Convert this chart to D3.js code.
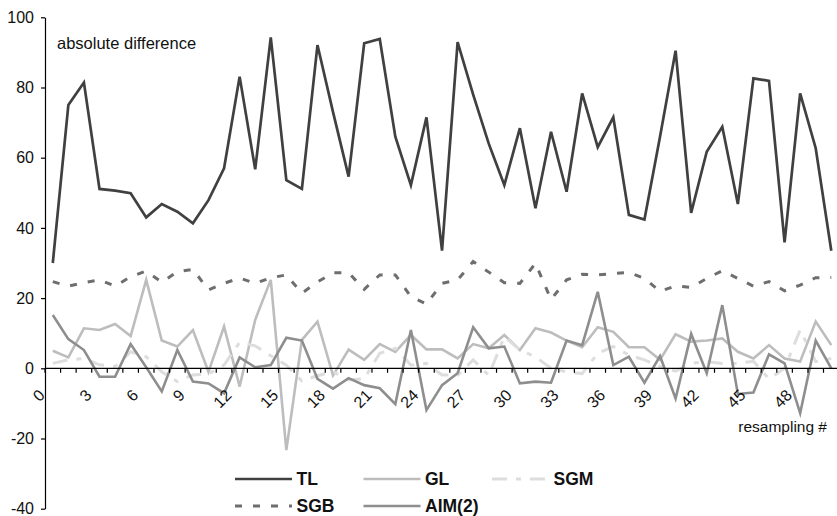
<!DOCTYPE html>
<html>
<head>
<meta charset="utf-8">
<script src="https://cdn.jsdelivr.net/npm/d3@7/dist/d3.min.js"></script>
<style>
  body { margin: 0; background: #fff; }
  svg { display: block; font-family: "Liberation Sans", Arial, sans-serif; }
</style>
</head>
<body>
<svg id="chart" width="837" height="516"></svg>
<script>
// resampling index 0..50
const resampling = d3.range(51)
const xTickLabels = [0, 3, 6, 9, 12, 15, 18, 21, 24, 27, 30, 33, 36, 39, 42, 45, 48]
const yTicks = [-40, -20, 0, 20, 40, 60, 80, 100]

const TL = [30, 75, 81.4, 51.1, 50.6, 49.9, 43, 46.8, 44.6, 41.3, 47.9,
    57, 83.1, 56.7, 94.3, 53.6, 51.1, 92.1, 73, 54.6, 92.6,
    93.8, 66, 52.2, 71.5, 33.5, 92.9, 78, 64, 52.2, 68.4,
    45.6, 67.4, 50.3, 78.3, 63, 71.5, 43.7, 42.4, 66, 90.5,
    44.3, 61.7, 68.8, 46.8, 82.6, 81.9, 35.9, 78.3, 62.7, 33.5]
const GL = [5, 3.1, 11.4, 10.9, 12.6, 9.2, 25.2, 7.9, 6.2, 10.9, -1,
    11.9, -5.2, 13.8, 25.2, -23.3, 8.1, 13.3, -2, 5.3, 2.4,
    6.9, 4.7, 9.5, 5.4, 5.4, 2.8, 6.9, 5.7, 9.5, 5.2,
    11.4, 10.2, 7.9, 6, 11.7, 10.4, 6, 6, 2.4, 9.7,
    7.6, 7.9, 8.5, 4.7, 2.8, 6.6, 2.8, 1.9, 13.3, 6.6]
const SGM = [1.4, 2.4, 2.8, 1, 0.5, 4.7, 3.3, -1, -3.8, -1.9, -1.6,
    0.9, 7.4, 6.4, 3.6, 0.9, -3.6, -2.1, -1, -3.3, -3,
    4.3, 5.7, 0.9, 1.4, -1.9, -2, 2.4, -2, 9, 5.2,
    3.3, 0, -1, -1.5, 4.3, 6.2, 3.8, 2.4, 0.5, -0.8,
    1.4, 1.9, 1.4, 1.4, 2, -3, 0, 10.9, 1.9, 2.8]
const SGB = [24.7, 23.4, 24.4, 25.2, 23.4, 26.1, 27.7, 24.5, 27.5, 28.2, 22.3,
    24.2, 25.7, 24.2, 25.8, 26.6, 21.4, 24.6, 27.2, 27.2, 22.5,
    26.6, 26.6, 20.4, 18.3, 24.2, 25.2, 30.4, 27.4, 24.4, 24.2,
    29.9, 19.6, 25.2, 26.8, 26.6, 27, 27.3, 25.6, 21.9, 23.5,
    23, 25.6, 27.8, 25.6, 23.4, 24.7, 22.1, 23.7, 25.8, 25.9]
const AIM2 = [15.2, 8.3, 5.2, -2.4, -2.4, 6.9, 0.3, -6.6, 5.2, -3.8, -4.3,
    -7.1, 3.1, 0.3, 0.9, 8.7, 7.9, -3, -5.8, -2.8, -4.8,
    -5.7, -10.2, 10.9, -11.9, -4.8, -1.4, 11.7, 5.7, 6.2, -4.3,
    -3.8, -4.1, 7.9, 6.6, 21.8, 0.9, 3.3, -4.1, 3.5, -8.6,
    9.8, -1.4, 18, -7.3, -6.9, 4, 1.4, -12.8, 7.9, 0]

const series = [
    { name: 'TL', values: TL },
    { name: 'GL', values: GL },
    { name: 'SGM', values: SGM },
    { name: 'SGB', values: SGB },
    { name: 'AIM(2)', values: AIM2 },
]

// look of each series
const styles = {
    'TL': { color: '#404040', width: 2.7, dash: null },
    'GL': { color: '#bdbdbd', width: 2.6, dash: null },
    'SGM': { color: '#dddddd', width: 3, dash: '15,9,5,9' },
    'SGB': { color: '#6e6e6e', width: 3, dash: '7,11' },
    'AIM(2)': { color: '#8e8e8e', width: 2.6, dash: null },
}
// legend slots: column / row
const legendPos = {
    'TL': [0, 0], 'GL': [1, 0], 'SGM': [2, 0], 'SGB': [0, 1], 'AIM(2)': [1, 1],
}

const svg = d3.select('#chart')

const axisX = 45
const x = d3.scaleBand().domain(resampling).range([axisX, axisX + 51 * 15.57])
const y = d3.scaleLinear().domain([-40, 100]).range([508.7, 17.3])
const cx = i => x(i) + x.bandwidth() / 2

// series
const line = d3.line()
    .x((d, i) => cx(i))
    .y(d => y(d))

svg.append('g')
    .selectAll('path')
    .data(series)
    .enter()
    .append('path')
    .attr('d', d => line(d.values))
    .attr('fill', 'none')
    .attr('stroke', d => styles[d.name].color)
    .attr('stroke-width', d => styles[d.name].width)
    .attr('stroke-dasharray', d => styles[d.name].dash)
    .attr('stroke-linejoin', 'miter')

// y axis (plain hyphen for negatives, like the original)
const yAxis = svg.append('g')
    .attr('transform', `translate(${axisX},0)`)
    .call(d3.axisLeft(y).tickValues(yTicks).tickSize(4).tickSizeOuter(0).tickPadding(7)
        .tickFormat(d => String(d)))
yAxis.select('.domain').attr('stroke', '#000').attr('stroke-width', 1.2)
yAxis.selectAll('.tick line').attr('stroke', '#000').attr('stroke-width', 1.2)
yAxis.selectAll('.tick text')
    .attr('fill', '#111')
    .style('font-size', '16px')
    .style('font-family', '"Liberation Sans", Arial, sans-serif')

// x axis along zero
const zeroY = y(0)
svg.append('line')
    .attr('x1', axisX).attr('x2', 837)
    .attr('y1', zeroY).attr('y2', zeroY)
    .attr('stroke', '#000').attr('stroke-width', 1.2)

svg.append('g')
    .selectAll('line')
    .data(resampling.concat([51]))
    .enter()
    .append('line')
    .attr('x1', d => axisX + d * x.step())
    .attr('x2', d => axisX + d * x.step())
    .attr('y1', zeroY)
    .attr('y2', zeroY + 4.5)
    .attr('stroke', '#000')
    .attr('stroke-width', 1.2)

svg.append('g')
    .selectAll('text')
    .data(xTickLabels)
    .enter()
    .append('text')
    .attr('transform', d => `translate(${cx(d) - 7},${zeroY + 28}) rotate(-45)`)
    .attr('text-anchor', 'end')
    .attr('fill', '#111')
    .style('font-size', '16px')
    .text(d => d)

// axis titles
svg.append('text')
    .attr('x', 57).attr('y', 49)
    .attr('fill', '#111')
    .style('font-size', '16.5px')
    .text('absolute difference')

svg.append('text')
    .attr('x', 827).attr('y', 432)
    .attr('text-anchor', 'end')
    .attr('fill', '#111')
    .style('font-size', '15.5px')
    .text('resampling #')

// legend
const legend = svg.append('g')
    .selectAll('g')
    .data(series)
    .enter()
    .append('g')
    .attr('transform', d => {
        const [c, r] = legendPos[d.name]
        return `translate(${235 + c * 128.5},${479 + r * 27})`
    })

legend.append('line')
    .attr('x1', 0).attr('x2', 57)
    .attr('stroke', d => styles[d.name].color)
    .attr('stroke-width', d => styles[d.name].width)
    .attr('stroke-dasharray', d => styles[d.name].dash)

legend.append('text')
    .attr('x', 61.5)
    .attr('y', 6)
    .attr('fill', '#111')
    .style('font-size', '17.5px')
    .style('font-weight', 'bold')
    .text(d => d.name)
</script>
</body>
</html>
